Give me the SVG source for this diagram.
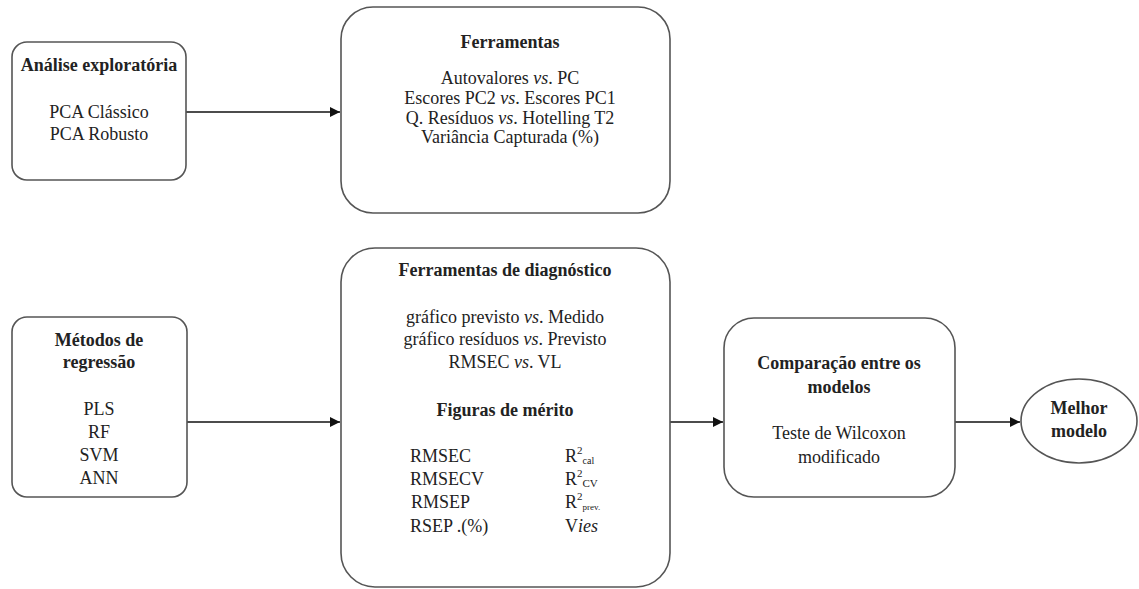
<svg xmlns="http://www.w3.org/2000/svg" width="1139" height="589" viewBox="0 0 1139 589">
<style>
.box{fill:#fff;stroke:#555;stroke-width:1.6}
.t{font-family:"Liberation Serif","Times New Roman",serif;font-size:18px;fill:#222;text-anchor:middle}
.b{font-weight:bold}
.l{text-anchor:start}
.c{stroke:#111;stroke-width:1.4;fill:none}
</style>
<defs>
<marker id="ah" viewBox="0 0 10 10" refX="10" refY="5" markerWidth="10" markerHeight="10" markerUnits="userSpaceOnUse" orient="auto">
<path d="M0,0 L10,5 L0,10 z" fill="#111"/>
</marker>
</defs>
<rect width="1139" height="589" fill="#fff"/>
<g id="connectors">
<line class="c" x1="186" y1="112" x2="340" y2="112" marker-end="url(#ah)"/>
<line class="c" x1="187" y1="422" x2="340" y2="422" marker-end="url(#ah)"/>
<line class="c" x1="670" y1="422" x2="723" y2="422" marker-end="url(#ah)"/>
<line class="c" x1="955" y1="422" x2="1020" y2="422" marker-end="url(#ah)"/>
</g>
<g id="analise">
<rect class="box" x="12" y="42" width="174" height="138" rx="15"/>
<text class="t b" x="99" y="71">Análise exploratória</text>
<text class="t" x="99" y="118">PCA Clássico</text>
<text class="t" x="99" y="140">PCA Robusto</text>
</g>
<g id="ferramentas">
<rect class="box" x="341" y="7" width="329" height="206" rx="32"/>
<text class="t b" x="510" y="48">Ferramentas</text>
<text class="t" x="510" y="84">Autovalores <tspan font-style="italic">vs</tspan>. PC</text>
<text class="t" x="510" y="104">Escores PC2 <tspan font-style="italic">vs</tspan>. Escores PC1</text>
<text class="t" x="510" y="124">Q. Resíduos <tspan font-style="italic">vs</tspan>. Hotelling T2</text>
<text class="t" x="510" y="143">Variância Capturada (%)</text>
</g>
<g id="metodos">
<rect class="box" x="12" y="317" width="175" height="180" rx="15"/>
<text class="t b" x="99" y="346">Métodos de</text>
<text class="t b" x="99" y="368">regressão</text>
<text class="t" x="99" y="415">PLS</text>
<text class="t" x="99" y="438">RF</text>
<text class="t" x="99" y="461">SVM</text>
<text class="t" x="99" y="484">ANN</text>
</g>
<g id="diagnostico">
<rect class="box" x="341" y="248" width="329" height="339" rx="34"/>
<text class="t b" x="505" y="276">Ferramentas de diagnóstico</text>
<text class="t" x="505" y="323">gráfico previsto <tspan font-style="italic">vs</tspan>. Medido</text>
<text class="t" x="505" y="345">gráfico resíduos <tspan font-style="italic">vs</tspan>. Previsto</text>
<text class="t" x="505" y="368">RMSEC <tspan font-style="italic">vs</tspan>. VL</text>
<text class="t b" x="505" y="416">Figuras de mérito</text>
<text class="t l" x="410" y="462">RMSEC</text>
<text class="t l" x="410" y="485">RMSECV</text>
<text class="t l" x="411" y="508">RMSEP</text>
<text class="t l" x="410" y="532">RSEP .(%)</text>
<text class="t l" x="565" y="462">R<tspan font-size="11" dy="-8">2</tspan><tspan font-size="10" dy="10">cal</tspan></text>
<text class="t l" x="565" y="485">R<tspan font-size="11" dy="-8">2</tspan><tspan font-size="11" dy="10">CV</tspan></text>
<text class="t l" x="565" y="508">R<tspan font-size="11" dy="-8">2</tspan><tspan font-size="9" dy="10">prev.</tspan></text>
<text class="t l" x="565" y="532">V<tspan font-style="italic">ies</tspan></text>
</g>
<g id="comparacao">
<rect class="box" x="724" y="318" width="231" height="179" rx="30"/>
<text class="t b" x="839" y="369">Comparação entre os</text>
<text class="t b" x="839" y="393">modelos</text>
<text class="t" x="839" y="439">Teste de Wilcoxon</text>
<text class="t" x="839" y="463">modificado</text>
</g>
<g id="melhor">
<ellipse class="box" cx="1079" cy="421" rx="58" ry="42"/>
<text class="t b" x="1079" y="414">Melhor</text>
<text class="t b" x="1079" y="437">modelo</text>
</g>
</svg>
